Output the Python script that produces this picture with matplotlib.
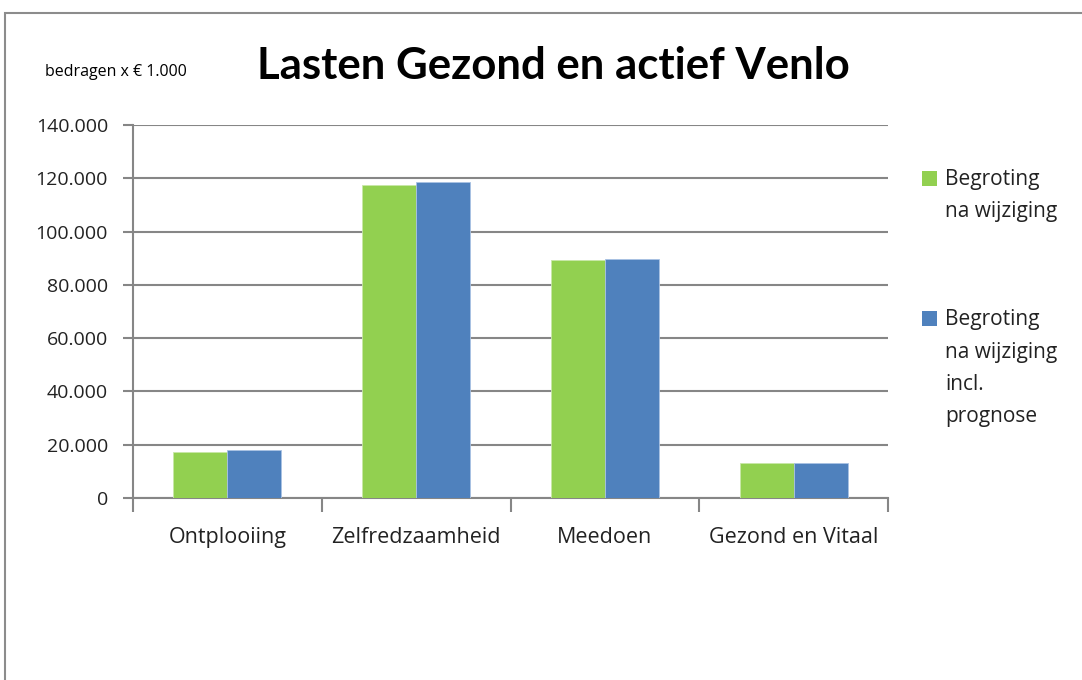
import matplotlib
matplotlib.use("Agg")
import matplotlib.pyplot as plt
import numpy as np
from matplotlib.patches import Rectangle
from matplotlib.ticker import FuncFormatter, FixedLocator

categories = ["Ontplooiing", "Zelfredzaamheid", "Meedoen", "Gezond en Vitaal"]
series_names = ["Begroting\nna wijziging", "Begroting\nna wijziging\nincl.\nprognose"]
begroting = [17200, 117300, 89200, 13200]
prognose = [17900, 118700, 89800, 13300]
yticks = [0, 20000, 40000, 60000, 80000, 100000, 120000, 140000]
colors = ["#92D050", "#4F81BD"]
title = "Lasten Gezond en actief Venlo"
note = "bedragen x € 1.000"

plt.rcParams['font.family'] = ['Open Sans', 'DejaVu Sans']

W, H = 1082, 680
fig = plt.figure(figsize=(W / 100, H / 100), dpi=100)
ax = fig.add_axes([133 / W, 1 - 498 / H, (888 - 133) / W, (498 - 125) / H])

x = np.arange(len(categories))
bw = 1 / 3.5
ax.bar(x - bw / 2, begroting, width=bw, color=colors[0], edgecolor='#c8e8a8', linewidth=0.6, zorder=3)
ax.bar(x + bw / 2, prognose, width=bw, color=colors[1], edgecolor='#a9c2e3', linewidth=0.6, zorder=3)

ax.set_xlim(-0.5, len(categories) - 0.5)
ax.set_ylim(0, 140000)
ax.set_yticks(yticks)
ax.yaxis.set_major_formatter(FuncFormatter(lambda v, p: f"{int(v):,}".replace(",", ".")))
ax.grid(axis='y', color='#868686', linewidth=1.5, zorder=0)
ax.set_axisbelow(True)

ax.set_xticks(x)
ax.set_xticklabels(categories, fontsize=15.5, color='#222222')
ax.tick_params(axis='x', length=0, pad=21)
ax.xaxis.set_minor_locator(FixedLocator(np.arange(-0.5, len(categories), 1.0)))
ax.tick_params(axis='x', which='minor', length=10, width=1.5, color='#868686')
ax.tick_params(axis='y', length=7, width=1.5, color='#868686', labelsize=14, labelcolor='#222222', pad=11)

for s in ['top', 'right']:
    ax.spines[s].set_visible(False)
for s in ['left', 'bottom']:
    ax.spines[s].set_color('#868686')
    ax.spines[s].set_linewidth(1.5)

fig.text(553 / W, 1 - 66 / H, title, fontsize=31.5, fontweight='bold', ha='center', va='center',
         color='black', family=['Lato', 'DejaVu Sans'])
fig.text(45 / W, 1 - 72 / H, note, fontsize=11.5, ha='left', va='center', color='black')

# legend (manual)
legend_tops = [180, 320]
for name, col, ytop in zip(series_names, colors, legend_tops):
    fig.patches.append(Rectangle((922 / W, 1 - (ytop + 6) / H), 15 / W, 15 / H, transform=fig.transFigure,
                                 facecolor=col, edgecolor='none'))
    for i, line in enumerate(name.split("\n")):
        fig.text(945 / W, 1 - (ytop + 32 * i) / H, line, fontsize=15, ha='left', va='center', color='#222222')

# outer frame
fig.patches.append(Rectangle((5 / W, -0.2), 1.2, 1 - 13 / H + 0.2, transform=fig.transFigure,
                             fill=False, edgecolor='#8c8c8c', linewidth=1.5, zorder=0))

fig.savefig("out.png", dpi=100)
